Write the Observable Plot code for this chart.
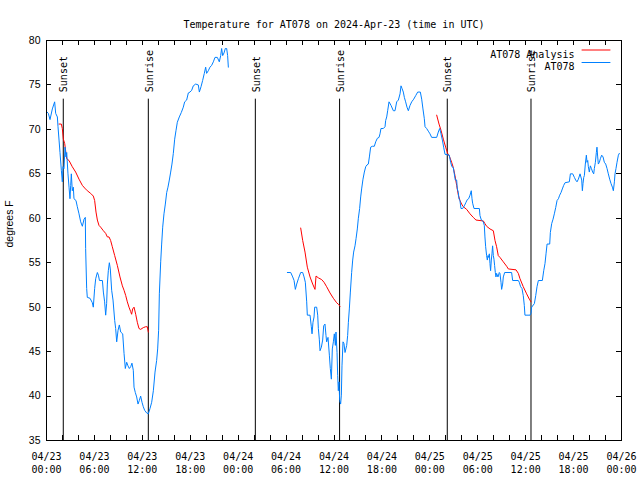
<!DOCTYPE html>
<html><head><meta charset="utf-8">
<script src="https://cdn.jsdelivr.net/npm/d3@7"></script>
<script src="https://cdn.jsdelivr.net/npm/@observablehq/plot@0.6"></script>
<style>body{margin:0;background:#fff}</style>
</head><body><div id="chart"></div>
<script>
// ---- data (hours since 2024-04-23 00:00 UTC, degrees F); null = gap ----
const obsHours = [0.02,0.23,0.44,0.73,1.02,1.15,1.36,1.44,1.57,1.69,1.86,1.98,2.07,2.19,2.32,2.44,2.53,2.69,2.82,2.94,3.03,3.11,3.23,3.36,3.44,3.69,3.86,4.07,4.28,4.49,4.70,4.86,4.90,5.03,5.11,5.45,5.74,5.86,6.03,6.16,6.37,6.50,6.63,7.00,7.12,7.28,7.41,7.53,7.62,7.74,7.87,7.99,8.16,8.33,8.54,8.66,8.79,8.96,9.12,9.29,9.54,9.71,9.87,10.04,10.20,10.37,10.54,10.70,10.87,10.96,11.12,11.29,11.46,11.62,11.79,11.96,12.12,12.29,12.54,12.75,12.96,13.17,13.38,13.59,13.79,13.92,14.04,14.13,14.30,14.42,14.55,14.71,14.88,15.05,15.21,15.38,15.55,15.71,15.88,16.05,16.22,16.38,16.63,16.88,17.13,17.30,17.55,17.76,17.97,18.18,18.38,18.68,19.01,19.14,19.35,19.55,19.76,19.93,20.05,20.26,20.47,20.68,20.89,21.10,21.39,21.64,21.81,21.93,22.06,22.23,22.39,22.56,22.68,22.77,
  26.0,
  30.16,30.58,30.83,31.00,31.16,31.33,31.54,31.83,32.08,32.25,32.41,32.58,32.66,33.00,33.16,33.25,33.37,33.50,33.58,33.83,33.96,34.04,34.16,34.25,34.42,34.58,34.71,34.87,35.00,35.08,35.25,35.42,35.54,35.67,35.79,35.92,36.04,36.17,36.25,36.38,36.46,36.54,36.63,36.71,36.83,36.92,37.00,37.13,37.25,37.38,37.59,37.71,37.80,37.92,38.05,38.21,38.34,38.46,38.63,38.76,38.92,39.05,39.21,39.34,39.46,39.63,39.80,39.97,40.13,40.30,40.43,40.59,40.80,41.05,41.22,41.43,41.64,41.76,41.88,42.18,42.39,42.47,42.60,42.72,42.89,43.14,43.43,43.64,43.85,44.06,44.27,44.39,44.52,44.68,44.81,44.97,45.14,45.31,45.52,45.73,45.98,46.23,46.48,46.81,46.98,47.14,47.31,47.40,47.60,47.81,48.02,48.23,48.86,49.06,49.23,49.40,49.57,49.73,49.90,50.44,50.60,50.77,50.94,51.06,51.19,51.36,51.44,51.57,51.65,51.77,51.90,52.11,52.32,52.53,52.69,52.86,53.03,53.19,53.28,53.36,53.53,54.20,54.28,54.45,54.70,54.82,54.90,54.99,55.11,55.20,55.28,55.36,55.45,55.53,55.61,55.70,55.78,55.86,55.95,56.03,56.11,56.20,56.28,56.36,56.53,56.70,56.78,56.91,56.99,57.12,57.20,57.37,58.24,58.37,59.08,59.20,59.37,59.54,59.70,59.83,59.91,60.54,60.67,60.75,61.09,61.26,61.42,61.59,62.09,62.26,62.42,62.55,62.68,63.01,63.09,63.26,63.43,63.59,63.76,63.93,64.10,64.26,64.43,64.59,64.76,64.93,65.47,65.60,65.89,66.10,66.26,66.43,66.60,66.81,67.02,67.10,67.18,67.27,67.35,67.47,67.60,67.68,67.77,67.85,67.97,68.10,68.23,68.39,68.52,68.60,68.73,68.85,68.93,69.02,69.10,69.23,69.35,69.52,69.69,69.85,70.02,70.19,70.35,70.52,70.69,70.86,70.98,71.11,71.19,71.31,71.44,71.61,71.73];
const obsTemps = [72.0,71.8,71.1,72.3,73.1,71.8,71.4,70.3,68.8,67.4,65.4,64.1,65.8,65.6,68.0,66.9,67.4,65.0,63.5,62.2,63.7,65.0,63.1,63.5,62.2,62.0,61.3,60.5,59.6,59.1,59.9,60.1,56.6,52.1,51.1,51.0,50.5,50.0,52.1,53.2,53.9,53.6,53.0,53.0,51.7,50.6,49.1,50.4,52.6,54.1,55.0,54.3,51.9,50.8,48.5,47.6,46.1,47.4,48.0,47.2,47.0,44.8,43.1,43.8,43.4,43.1,43.3,43.7,42.9,41.0,40.4,39.9,39.1,39.5,40.0,39.3,38.8,38.4,38.1,38.0,38.6,39.3,40.6,42.7,44.0,45.3,47.4,51.5,55.1,57.1,59.0,60.5,61.6,62.9,63.5,64.3,65.2,66.1,67.3,68.9,69.9,70.8,71.4,71.9,72.5,73.1,73.3,74.1,74.2,74.4,74.9,75.1,75.0,74.2,74.8,75.5,76.3,77.0,76.3,76.6,77.0,77.2,77.6,78.1,78.1,77.6,78.3,79.1,78.3,78.6,79.1,79.1,78.3,77.0,
  null,
  53.9,53.9,53.4,53.0,52.0,52.6,53.2,53.9,53.9,53.4,52.8,50.6,49.1,49.1,47.8,47.0,48.3,48.9,50.0,50.0,49.1,47.6,46.4,45.1,45.5,46.3,47.9,48.1,46.8,46.1,46.6,44.6,43.1,41.9,45.3,46.1,47.0,45.7,47.2,44.9,42.3,40.6,41.6,39.5,39.1,40.1,43.4,46.1,45.9,44.9,45.7,46.8,48.3,49.8,51.7,53.9,55.3,56.2,56.9,57.7,58.8,60.0,61.1,62.4,63.3,64.4,65.2,65.8,66.0,66.1,66.9,68.0,68.1,68.1,68.6,69.0,69.1,69.5,70.1,70.1,70.3,71.0,71.4,72.1,73.1,72.7,72.1,72.1,73.1,73.3,74.0,74.9,74.6,74.2,73.6,73.1,72.5,72.1,72.7,73.1,73.4,73.8,74.2,74.2,73.4,72.3,71.2,70.3,70.1,69.8,69.5,69.1,69.1,69.7,70.1,69.5,68.8,68.0,67.2,67.1,66.3,65.8,65.7,65.0,64.3,64.3,63.3,62.9,62.2,62.0,61.1,61.1,61.4,61.8,62.1,62.2,62.6,63.1,62.2,61.7,61.1,61.1,60.3,59.8,59.6,59.2,57.9,56.8,55.8,55.3,55.8,55.6,56.0,54.9,54.1,55.3,56.0,56.9,55.8,55.4,54.7,53.9,53.4,53.8,53.4,53.9,53.8,52.8,52.0,52.6,53.4,53.9,53.9,53.0,53.0,52.8,52.3,52.1,51.3,50.2,49.1,49.1,49.3,50.0,50.4,51.3,52.3,53.0,53.0,54.1,54.9,56.0,57.1,57.1,58.4,59.4,59.9,60.5,61.2,62.0,62.2,62.6,62.9,63.3,63.7,64.0,64.1,65.0,65.0,64.6,64.3,64.1,64.4,65.0,64.3,63.1,63.9,64.6,64.8,66.1,67.1,66.3,66.5,65.8,65.2,65.9,65.6,65.2,65.0,65.6,66.3,67.4,68.0,66.9,66.1,66.3,66.7,67.1,66.9,66.3,66.1,65.6,65.0,64.4,63.9,63.5,63.1,64.1,65.0,65.6,66.3,67.1,67.3];

const anaHours = [1.57,1.86,1.98,2.11,2.28,2.53,2.82,3.23,3.65,4.07,4.49,4.78,5.11,5.53,5.86,6.03,6.20,6.37,6.57,6.78,7.12,7.41,7.62,7.83,8.03,8.24,8.54,8.87,9.20,9.50,9.71,9.92,10.12,10.33,10.54,10.66,10.79,10.96,11.17,11.37,11.58,11.79,12.12,12.42,12.62,12.75,
  20.0,
  31.83,32.08,32.37,32.66,33.00,33.33,33.62,33.75,34.04,34.46,34.75,35.08,35.50,35.92,36.33,36.58,36.75,
  42.0,
  48.86,49.15,49.40,49.69,49.98,50.23,50.44,50.73,50.94,51.15,51.36,51.57,51.77,51.98,52.19,52.61,53.03,53.44,53.78,54.70,54.90,55.11,55.53,55.95,56.16,56.36,56.57,56.78,57.20,57.62,57.83,58.79,59.08,59.29,59.70,60.12,60.46,60.67];
const anaTemps = [70.6,70.6,70.1,68.9,68.4,66.7,66.5,65.8,65.2,64.4,63.7,63.4,63.1,62.8,62.5,62.0,60.7,59.8,59.2,59.0,58.6,58.3,57.9,57.9,57.5,56.8,55.8,54.7,53.4,52.4,51.9,51.3,50.6,50.0,49.5,49.2,49.8,50.0,49.2,48.3,47.6,47.5,47.7,47.8,47.8,47.2,
  null,
  58.9,57.5,56.2,54.5,53.4,52.6,52.0,53.5,53.3,53.1,52.8,52.3,51.6,51.0,50.5,50.3,50.1,
  null,
  71.6,70.6,69.9,68.9,68.0,67.3,67.0,66.3,65.7,64.8,63.7,62.6,62.0,61.6,61.3,61.0,60.5,60.1,59.8,59.7,59.4,59.1,58.8,58.6,57.5,56.8,55.8,55.6,55.1,54.6,54.3,54.2,53.8,53.2,52.3,51.5,50.9,50.6];

const eventTimes = ["2024-04-23T02:06Z","2024-04-23T12:45Z","2024-04-24T02:09Z","2024-04-24T12:42Z","2024-04-25T02:11Z","2024-04-25T12:40Z"];
const eventLabels = ["Sunset","Sunrise","Sunset","Sunrise","Sunset","Sunrise"];
const yTicks = [35,40,45,50,55,60,65,70,75,80];
const seriesNames = ["AT078 Analysis","AT078"];
const seriesColors = ["#ff0000","#0080ff"];
const titleText = "Temperature for AT078 on 2024-Apr-23 (time in UTC)";
const yLabel = "degrees F";

// ---- build tables ----
const base = Date.UTC(2024, 3, 23);
const toDate = h => new Date(base + h * 3600e3);
const obs = obsHours.map((h, i) => ({t: toDate(h), v: obsTemps[i]}));
const ana = anaHours.map((h, i) => ({t: toDate(h), v: anaTemps[i]}));
const events = eventTimes.map((s, i) => ({t: new Date(s), label: eventLabels[i]}));
const legend = seriesNames.map((n, i) => ({name: n, color: seriesColors[i], row: i}));
const xMinor = d3.utcHour.every(2).range(toDate(0), toDate(72.01));

const mono = "DejaVu Sans Mono";
const sans = "Liberation Sans, Arial, sans-serif";
const lineShape = {draw(ctx, l) { ctx.moveTo(0, 0); ctx.lineTo(0, -l); }};
const yTop = 73.4;
const tick = 5;
const M = {left: 46, right: 19, top: 40, bottom: 40};

const chart = Plot.plot({
  width: 640,
  height: 480,
  marginLeft: M.left,
  marginRight: M.right,
  marginTop: M.top,
  marginBottom: M.bottom,
  style: {background: "#fff", color: "#000"},
  x: {type: "utc", domain: [toDate(0), toDate(72)]},
  y: {domain: [35, 80]},
  marks: [
    // tick labels
    Plot.axisX({anchor: "bottom", ticks: "6 hours", tickSize: 0, tickPadding: 10,
      tickFormat: d3.utcFormat("%m/%d\n%H:%M"), fontFamily: mono, fontSize: 10,
      lineHeight: 1.33, label: null}),
    Plot.axisY({anchor: "left", ticks: yTicks, tickSize: 0, tickPadding: 6,
      fontFamily: sans, fontSize: 10.5, label: null}),
    Plot.text([yLabel], {frameAnchor: "left", dx: -36.5, dy: 7, rotate: -90,
      fontFamily: sans, fontSize: 10.5}),
    Plot.text([titleText], {frameAnchor: "top", dy: -20, fontFamily: mono, fontSize: 10}),
    // sunrise / sunset
    Plot.ruleX(events, {x: "t", y1: 35, y2: yTop, stroke: "#000", strokeWidth: 1}),
    Plot.text(events, {x: "t", y: yTop, text: "label", rotate: -90, textAnchor: "start",
      dy: -7, dx: 1, fontFamily: mono, fontSize: 10}),
    // series
    Plot.line(ana, {x: "t", y: "v", stroke: seriesColors[0], strokeWidth: 1, strokeLinejoin: "miter"}),
    Plot.line(obs, {x: "t", y: "v", stroke: seriesColors[1], strokeWidth: 1, strokeLinejoin: "miter"}),
    // legend
    Plot.text(legend, {frameAnchor: "top-right", text: "name", textAnchor: "end",
      dx: -47, dy: 10, fontFamily: mono, fontSize: 10, filter: d => d.row === 0}),
    Plot.text(legend, {frameAnchor: "top-right", text: "name", textAnchor: "end",
      dx: -47, dy: 22.5, fontFamily: mono, fontSize: 10, filter: d => d.row === 1}),
    Plot.vector(legend, {frameAnchor: "top-right", dx: -39.5, dy: 9.5, filter: d => d.row === 0,
      length: 28, rotate: 90, anchor: "start", shape: lineShape, stroke: "color", strokeWidth: 1}),
    Plot.vector(legend, {frameAnchor: "top-right", dx: -39.5, dy: 22, filter: d => d.row === 1,
      length: 28, rotate: 90, anchor: "start", shape: lineShape, stroke: "color", strokeWidth: 1}),
    Plot.frame({stroke: "#000", strokeWidth: 1})
  ]
});

// inward tick marks on all four sides, positioned with the plot's own scales
const sx = chart.scale("x"), sy = chart.scale("y");
const svg = d3.select(chart);
const g = svg.append("g").attr("stroke", "#000").attr("stroke-width", 1);
const x0 = M.left, x1 = 640 - M.right, y0 = M.top, y1 = 480 - M.bottom;
for (const d of xMinor) {
  const x = Math.round(sx.apply(d)) + 0.5;
  g.append("line").attr("x1", x).attr("x2", x).attr("y1", y1).attr("y2", y1 - tick);
  g.append("line").attr("x1", x).attr("x2", x).attr("y1", y0).attr("y2", y0 + tick);
}
for (const v of yTicks) {
  const y = Math.round(sy.apply(v)) + 0.5;
  g.append("line").attr("x1", x0).attr("x2", x0 + tick).attr("y1", y).attr("y2", y);
  g.append("line").attr("x1", x1).attr("x2", x1 - tick).attr("y1", y).attr("y2", y);
}
document.getElementById("chart").appendChild(chart);
</script></body></html>
